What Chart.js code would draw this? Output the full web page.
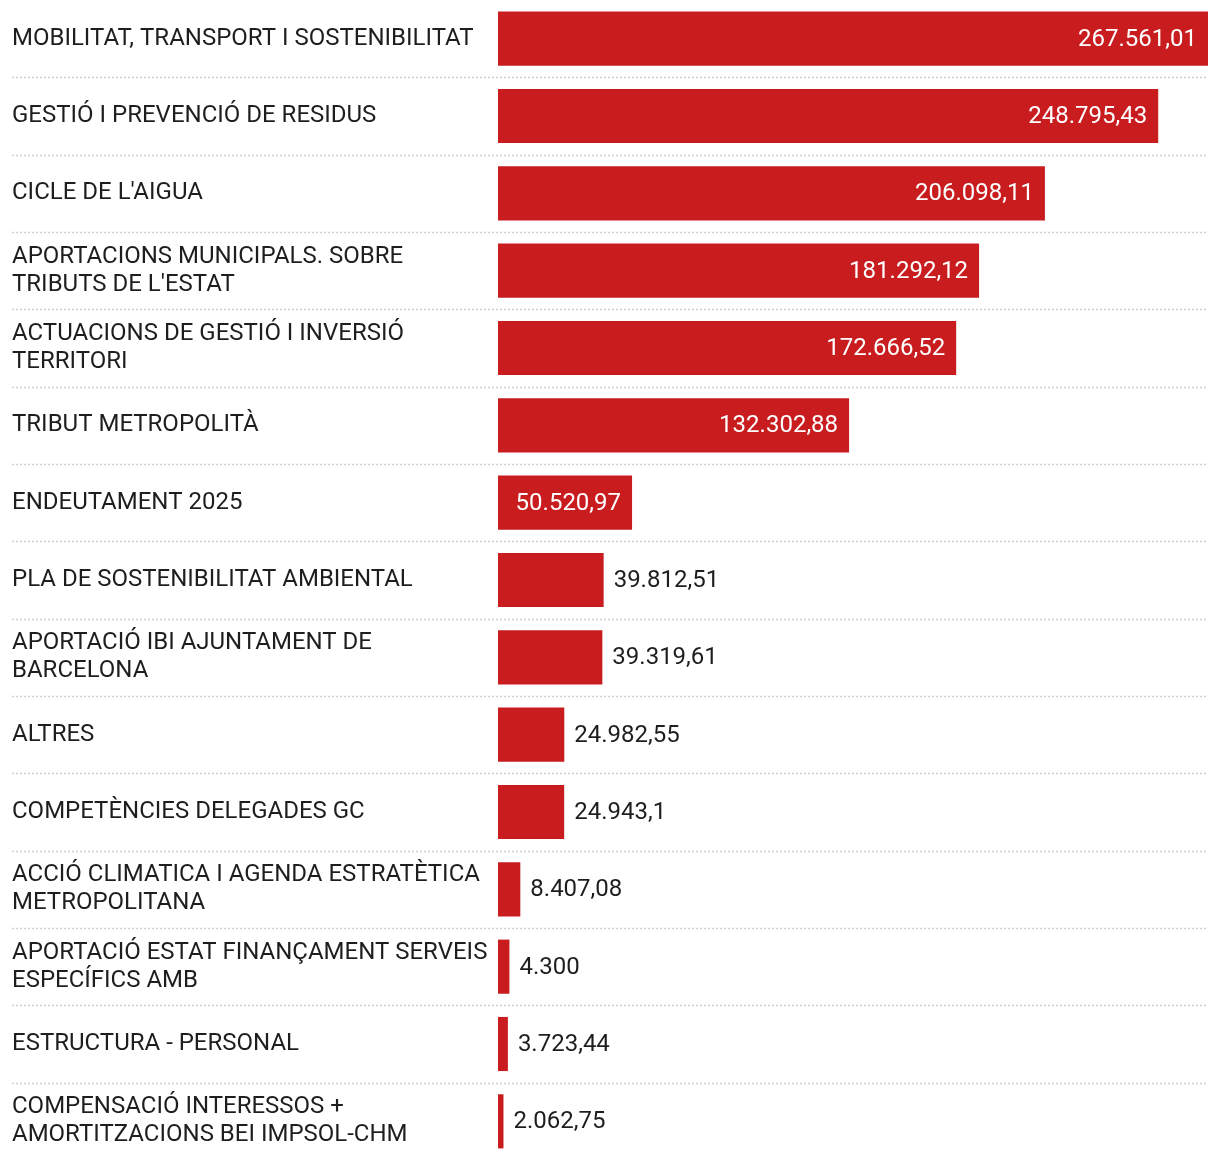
<!DOCTYPE html>
<html>
<head>
<meta charset="utf-8">
<script src="https://cdn.jsdelivr.net/npm/chart.js@4/dist/chart.umd.min.js"></script>
<style>
  html, body { margin: 0; padding: 0; background: #fff; }
  #wrap { width: 1220px; height: 1160px; position: relative; }
</style>
</head>
<body>
<div id="wrap"><canvas id="chart"></canvas></div>
<script>
// Categories (multi-line labels as arrays) and values
const categories = [
  ['MOBILITAT, TRANSPORT I SOSTENIBILITAT'],
  ['GESTIÓ I PREVENCIÓ DE RESIDUS'],
  ["CICLE DE L'AIGUA"],
  ['APORTACIONS MUNICIPALS. SOBRE', "TRIBUTS DE L'ESTAT"],
  ['ACTUACIONS DE GESTIÓ I INVERSIÓ', 'TERRITORI'],
  ['TRIBUT METROPOLITÀ'],
  ['ENDEUTAMENT 2025'],
  ['PLA DE SOSTENIBILITAT AMBIENTAL'],
  ['APORTACIÓ IBI AJUNTAMENT DE', 'BARCELONA'],
  ['ALTRES'],
  ['COMPETÈNCIES DELEGADES GC'],
  ['ACCIÓ CLIMATICA I AGENDA ESTRATÈTICA', 'METROPOLITANA'],
  ['APORTACIÓ ESTAT FINANÇAMENT SERVEIS', 'ESPECÍFICS AMB'],
  ['ESTRUCTURA - PERSONAL'],
  ['COMPENSACIÓ INTERESSOS +', 'AMORTITZACIONS BEI IMPSOL-CHM']
];
const values = [
  267561.01, 248795.43, 206098.11, 181292.12, 172666.52,
  132302.88, 50520.97, 39812.51, 39319.61, 24982.55,
  24943.1, 8407.08, 4300, 3723.44, 2062.75
];

const BAR_COLOR = '#c81c1e';
const TEXT_COLOR = '#1e1e1e';
const FONT = 'Roboto, "Noto Sans", sans-serif';

function formatValue(v) {
  return v.toLocaleString('ca-ES', { maximumFractionDigits: 2, useGrouping: 'always' });
}

// dotted separators across the whole width, between categories
const separators = {
  id: 'separators',
  beforeDatasetsDraw(chart) {
    const { ctx, scales: { y } } = chart;
    ctx.save();
    ctx.strokeStyle = '#cfcfcf';
    ctx.lineWidth = 1.5;
    ctx.setLineDash([2, 2]);
    for (let i = 1; i < categories.length; i++) {
      const py = Math.round(y.getPixelForValue(i - 0.5)) + 0.5;
      ctx.beginPath();
      ctx.moveTo(12, py);
      ctx.lineTo(chart.width - 12, py);
      ctx.stroke();
    }
    ctx.restore();
  }
};

// value labels: inside (white) when they fit, else after the bar
const valueLabels = {
  id: 'valueLabels',
  afterDatasetsDraw(chart) {
    const { ctx } = chart;
    const meta = chart.getDatasetMeta(0);
    ctx.save();
    ctx.font = '24px ' + FONT;
    ctx.textBaseline = 'middle';
    meta.data.forEach((bar, i) => {
      const text = formatValue(values[i]);
      const w = ctx.measureText(text).width;
      const barW = bar.x - bar.base;
      if (w + 20 < barW) {
        ctx.fillStyle = '#ffffff';
        ctx.textAlign = 'right';
        ctx.fillText(text, bar.x - 11, bar.y + 1);
      } else {
        ctx.fillStyle = TEXT_COLOR;
        ctx.textAlign = 'left';
        ctx.fillText(text, bar.x + 10, bar.y + 1);
      }
    });
    ctx.restore();
  }
};

new Chart(document.getElementById('chart'), {
  type: 'bar',
  data: {
    labels: categories,
    datasets: [{
      data: values,
      backgroundColor: BAR_COLOR,
      borderWidth: 0,
      barPercentage: 0.7,
      categoryPercentage: 1
    }]
  },
  options: {
    indexAxis: 'y',
    responsive: true,
    maintainAspectRatio: false,
    animation: false,
    layout: { padding: { left: 12, right: 12, top: 0, bottom: 0 } },
    scales: {
      x: {
        display: false,
        min: 0,
        max: Math.max(...values)
      },
      y: {
        grid: { display: false, drawTicks: false },
        border: { display: false },
        afterFit(scale) {
          scale.width = 486;
          scale.paddingTop = 0;
          scale.paddingBottom = 0;
        },
        ticks: {
          crossAlign: 'far',
          padding: 0,
          color: TEXT_COLOR,
          font: { family: FONT, size: 24, lineHeight: 1.1667 }
        }
      }
    },
    plugins: {
      legend: { display: false },
      tooltip: { enabled: false }
    }
  },
  plugins: [separators, valueLabels]
});
</script>
</body>
</html>
